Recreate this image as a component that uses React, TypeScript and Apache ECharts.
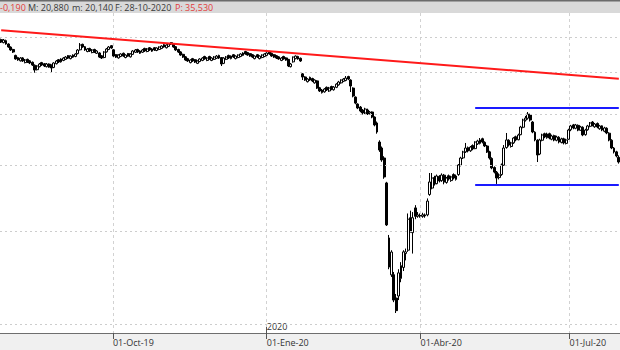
import React, { useEffect, useRef } from "react";
import * as echarts from "echarts";

// ---- calendar (categories) ----
const startDate = "2019-07-26";
const marketHolidays = ["2019-12-25", "2019-12-26", "2020-01-01", "2020-04-10", "2020-04-13", "2020-05-01"];
const monthNames = ["Ene", "Feb", "Mar", "Abr", "May", "Jun", "Jul", "Ago", "Sep", "Oct", "Nov", "Dic"];
const labelledMonths = [1, 4, 7, 10]; // quarters shown on the axis
const yearLabel = "2020";

// ---- daily candles [open, close, low, high] ----
const candlesQ3_2019: number[][] = [
  [34.60,34.24,34.10,34.75],[34.15,34.54,34.05,34.70],[34.45,33.95,33.85,34.60],[33.95,33.51,33.40,34.05],[33.50,33.07,32.95,33.60],
  [33.15,32.78,32.65,33.25],[32.30,31.80,31.70,32.40],[32.00,31.66,31.55,32.10],[31.55,31.93,31.45,32.05],[31.95,31.52,31.40,32.05],
  [31.30,31.66,31.20,31.80],[31.75,31.38,31.25,31.85],[31.55,31.25,31.10,31.65],[31.35,30.97,30.85,31.45],[30.95,30.30,29.95,31.05],
  [30.35,30.84,30.25,30.95],[30.75,31.11,30.65,31.25],[31.30,30.97,30.85,31.40],[31.15,30.84,30.70,31.25],[30.75,31.11,30.65,31.25],
  [31.10,30.70,30.60,31.20],[30.95,30.57,30.04,31.05],[30.65,31.25,30.55,31.35],[31.15,31.52,31.05,31.65],[31.70,31.38,31.25,31.80],
  [31.40,31.80,31.30,31.90],[31.60,31.93,31.50,32.05],[31.75,32.07,31.65,32.20],[32.25,31.93,31.80,32.35],[31.85,32.21,31.75,32.30],
  [32.05,32.35,31.95,32.45],[32.15,32.50,32.05,32.60],[32.55,33.07,32.45,33.20],[33.10,33.80,33.00,34.09],[33.90,33.51,33.40,34.00],
  [33.55,33.07,32.95,33.65],[32.85,33.22,32.75,33.35],[33.30,32.93,32.80,33.40],[32.70,33.07,32.60,33.20],[33.15,32.78,32.65,33.25],
  [32.60,32.93,32.50,33.05],[32.65,32.07,31.95,32.75],[32.25,31.93,31.80,32.35],[32.00,32.78,31.90,32.90],[32.80,33.22,32.70,33.35],
  [33.15,33.51,33.05,33.65],[33.70,33.36,33.25,33.80],
];
const candlesQ4_2019: number[][] = [
  [33.10,32.21,32.10,33.20],[32.40,32.07,31.95,32.50],[31.95,32.35,31.85,32.45],[32.15,32.50,32.05,32.60],[32.60,32.21,32.10,32.70],
  [32.00,32.35,31.90,32.45],[32.55,32.21,32.10,32.65],[32.10,32.50,32.00,32.60],[32.45,32.93,32.35,33.05],[32.75,33.07,32.65,33.20],
  [33.15,32.78,32.65,33.25],[32.60,32.93,32.50,33.05],[32.75,33.07,32.65,33.20],[33.30,32.93,32.80,33.40],[32.85,33.22,32.75,33.35],
  [33.40,33.07,32.95,33.50],[32.90,33.22,32.80,33.35],[33.40,33.07,32.95,33.50],[33.00,33.36,32.90,33.45],[33.15,33.51,33.05,33.60],
  [33.30,33.65,33.20,33.75],[33.85,33.51,33.40,33.95],[33.40,33.80,33.30,33.90],[33.60,33.95,33.50,34.05],[34.15,33.95,33.80,34.24],
  [33.95,33.51,33.40,34.05],[33.55,33.07,32.95,33.65],[33.15,32.78,32.65,33.25],[32.80,32.35,32.25,32.90],[32.45,32.07,31.95,32.55],
  [32.10,31.66,31.55,32.20],[31.85,31.52,31.40,31.95],[31.30,31.66,31.20,31.75],[31.85,31.52,31.40,31.95],[31.70,31.38,31.25,31.80],
  [31.20,31.52,31.10,31.60],[31.45,31.80,31.35,31.90],[31.60,31.93,31.50,32.05],[32.15,31.80,31.70,32.25],[31.60,31.93,31.50,32.05],
  [32.15,31.80,31.70,32.25],[31.60,31.93,31.50,32.05],[31.75,32.07,31.65,32.20],[31.90,32.21,31.80,32.35],[32.30,31.93,31.80,32.40],
  [32.00,31.11,30.84,32.07],[31.20,31.93,31.10,32.05],[31.75,32.07,31.65,32.20],[32.30,31.93,31.80,32.40],[31.85,32.21,31.75,32.30],
  [32.40,32.07,31.95,32.50],[31.85,32.21,31.75,32.30],[32.00,32.35,31.90,32.45],[32.15,32.50,32.05,32.60],[32.30,32.64,32.20,32.75],
  [32.85,32.50,32.40,32.95],[32.70,32.35,32.25,32.80],[32.55,32.21,32.10,32.65],[32.40,32.07,31.95,32.50],[31.85,32.21,31.75,32.30],
  [32.40,32.07,31.95,32.50],[31.85,32.21,31.75,32.30],[32.00,32.35,31.90,32.45],[32.15,32.50,32.05,32.60],
];
const candlesQ1_2020: number[][] = [
  [32.30,32.64,32.20,32.75],[32.85,32.50,32.40,32.95],[32.60,32.21,32.10,32.70],[32.40,32.07,31.95,32.50],[32.25,31.93,31.80,32.35],
  [32.10,31.80,31.70,32.20],[31.60,31.93,31.50,32.05],[32.15,31.80,31.70,32.25],[31.95,31.66,31.55,32.05],[31.75,30.84,30.70,31.80],
  [30.75,31.11,30.65,31.25],[31.40,32.07,31.30,32.15],[31.85,32.21,31.75,32.30],[32.15,31.80,31.70,32.25],[31.90,31.52,31.40,32.00],
  [29.80,29.39,29.01,29.91],[29.40,29.01,28.90,29.50],[28.80,29.13,28.70,29.25],[29.35,29.01,28.90,29.45],[29.20,28.89,28.75,29.30],
  [28.65,29.01,28.55,29.10],[28.90,28.01,27.90,29.00],[28.05,27.65,27.53,28.15],[27.45,27.77,27.35,27.90],[27.55,27.89,27.45,28.00],
  [28.10,27.77,27.65,28.20],[27.65,28.01,27.55,28.15],[28.20,27.89,27.75,28.30],[27.80,28.13,27.70,28.25],[28.10,28.50,28.00,28.60],
  [28.40,28.76,28.30,28.90],[28.65,29.01,28.55,29.10],[28.85,29.13,28.75,29.25],[28.95,29.26,28.85,29.52],[29.45,29.13,29.00,29.55],
  [29.01,28.26,27.53,29.10],[28.01,27.05,26.90,28.10],[26.93,26.23,26.10,27.00],[26.12,25.67,25.55,26.20],[25.78,25.34,25.20,25.90],
  [25.45,25.12,24.95,25.55],[25.12,25.56,25.00,25.70],[25.45,25.01,24.90,25.60],[25.12,25.23,24.95,25.35],[25.23,24.68,24.55,25.30],
  [24.68,23.84,23.70,24.75],[24.05,23.12,22.95,24.20],[22.13,21.37,21.20,22.30],[21.56,20.46,20.30,21.70],[20.64,19.00,18.85,20.80],
  [18.51,15.41,15.34,18.60],[14.56,12.82,12.70,14.75],[12.39,13.69,12.28,13.80],[12.40,11.10,11.00,12.55],[11.20,10.60,10.49,11.40],
  [11.30,12.50,11.10,12.70],[12.20,12.90,12.00,13.10],[12.80,13.70,12.60,13.80],[13.60,13.70,13.20,13.90],[13.80,15.80,13.70,16.20],
  [15.90,15.00,14.90,16.40],[14.90,15.90,13.60,16.30],[16.60,16.00,15.80,16.80],[16.00,16.10,15.90,16.30],
];
const candlesQ2Q3_2020: number[][] = [
  [16.05,16.03,15.90,16.20],[16.00,16.10,15.90,16.25],[16.10,16.03,15.90,16.20],[16.10,17.10,16.00,17.30],[17.60,18.59,17.50,19.33],
  [18.10,18.91,18.00,19.33],[18.95,18.43,18.30,19.10],[18.45,19.08,18.40,19.20],[19.05,18.67,18.55,19.15],[18.70,19.16,18.60,19.30],
  [19.15,18.59,18.40,19.25],[18.55,18.91,18.45,19.00],[19.10,18.83,18.70,19.20],[18.70,19.00,18.60,19.10],[19.20,18.91,18.80,19.30],
  [18.80,19.08,18.70,19.20],[19.20,20.02,19.10,20.10],[20.00,20.64,19.90,20.75],[20.65,21.19,20.55,21.30],[21.20,21.56,21.10,22.04],
  [21.60,21.28,21.15,21.70],[21.30,21.65,21.20,21.75],[21.80,21.47,21.35,21.90],[21.50,22.13,21.45,22.20],[21.95,22.23,21.85,22.35],
  [22.00,22.33,21.90,22.52],[22.45,22.13,22.00,22.55],[22.10,21.75,21.65,22.20],[21.75,21.19,21.10,21.85],[21.20,20.64,20.50,21.30],
  [20.60,19.76,19.65,20.70],[19.80,19.41,19.30,19.90],[19.40,18.91,18.43,19.50],[18.95,19.16,18.80,19.30],[19.20,20.02,19.10,20.15],
  [20.00,21.56,19.95,21.84],[21.60,22.33,21.50,23.02],[22.30,21.84,21.70,22.40],[21.70,22.04,21.60,22.15],[22.05,22.52,21.95,22.60],
  [22.65,22.33,22.20,22.75],[22.35,22.82,22.30,22.95],[22.85,23.63,22.80,23.75],[23.60,24.36,23.50,24.50],[24.35,24.57,24.20,24.80],
  [24.55,25.01,24.40,25.23],[24.95,24.36,24.20,25.05],[24.15,23.12,23.00,24.25],[23.10,22.33,22.20,23.20],[22.30,20.91,20.28,22.40],
  [21.00,22.33,20.90,22.45],[22.30,22.82,22.20,22.95],[22.95,22.62,22.50,23.05],[22.55,22.92,22.45,23.05],[22.95,22.52,22.40,23.05],
  [22.40,22.72,22.30,22.85],[22.75,22.33,22.20,22.85],[22.30,22.62,22.20,22.75],[22.60,22.13,22.00,22.70],[22.10,22.43,22.00,22.55],
  [22.45,22.04,21.90,22.55],[22.00,22.33,21.90,22.45],[22.40,23.32,22.35,23.45],[23.35,23.74,23.20,23.85],[23.85,23.53,23.40,23.95],
  [23.50,23.84,23.40,23.95],[23.80,23.32,23.20,23.90],[23.30,23.63,23.25,23.75],[23.60,22.82,22.70,23.70],[22.85,23.32,22.75,23.45],
  [23.35,23.74,23.25,23.85],[23.70,24.05,23.60,24.15],[24.15,23.84,23.70,24.25],[23.65,23.94,23.55,24.05],[24.00,23.63,23.50,24.10],
  [23.45,23.74,23.35,23.85],[23.75,23.32,23.20,23.80],[23.20,23.53,23.10,23.65],[23.50,23.02,22.90,23.60],[23.00,22.33,22.20,23.10],
  [22.30,21.56,21.45,22.40],[21.55,21.19,21.05,21.65],[21.20,20.82,20.70,21.30],[20.70,20.28,20.14,20.88],
];
const ohlc = [...candlesQ3_2019, ...candlesQ4_2019, ...candlesQ1_2020, ...candlesQ2Q3_2020];

// ---- price grid & drawn lines ----
const gridPrices = [10, 15, 20, 25, 30, 35];
const priceRange = [9.614, 38.87];
const trendPrices = [36.06, 29.18]; // red resistance line, first to last bar
const channelStart = "2020-05-07";
const channelPrices = [25.71, 18.4]; // blue range lines

// ---- header ----
const headerItems = [
  { text: "-0,190", color: "#e23b3b", at: 0 },
  { text: "M: 20,880", color: "#3a3a3a", at: 28 },
  { text: "m: 20,140", color: "#3a3a3a", at: 72 },
  { text: "F: 28-10-2020", color: "#3a3a3a", at: 115 },
  { text: "P: 35,530", color: "#e23b3b", at: 175 },
];

function tradingDays(start: string, count: number): string[] {
  const out: string[] = [];
  const d = new Date(start + "T00:00:00Z");
  while (out.length < count) {
    const wd = d.getUTCDay();
    const iso = d.toISOString().slice(0, 10);
    if (wd !== 0 && wd !== 6 && !marketHolidays.includes(iso)) out.push(iso);
    d.setUTCDate(d.getUTCDate() + 1);
  }
  return out;
}

const dates = tradingDays(startDate, ohlc.length);
const tickIdx = new Set<number>();
dates.forEach((d, i) => {
  if (i === 0) return;
  const m = +d.slice(5, 7);
  if (m !== +dates[i - 1].slice(5, 7) && labelledMonths.includes(m)) tickIdx.add(i);
});
const yearIdx = dates.findIndex((d) => d.startsWith(yearLabel));
const FONT = '"Open Sans", "Noto Sans", sans-serif';

export default function App() {
  const ref = useRef<HTMLDivElement>(null);
  useEffect(() => {
    if (!ref.current) return;
    const chart = echarts.init(ref.current, undefined, { renderer: "svg" });
    const last = dates[dates.length - 1];
    const showTick = (i: number) => tickIdx.has(i);
    const isYear = (i: number) => i === yearIdx;
    chart.setOption({
      animation: false,
      backgroundColor: "#ffffff",
      grid: { left: 0, right: 0, top: 13, bottom: 17, containLabel: false },
      xAxis: [
        {
          // axis holding the candles
          type: "category",
          data: dates,
          boundaryGap: true,
          position: "bottom",
          axisLine: { show: true, lineStyle: { color: "#6e6e6e", width: 1 } },
          axisTick: { show: false },
          axisLabel: { show: false },
          splitLine: { show: false },
        },
        {
          // quarter ticks, labels and vertical grid
          type: "category",
          data: dates,
          boundaryGap: false,
          position: "bottom",
          axisLine: { show: false },
          axisTick: { show: true, interval: showTick, length: 6, lineStyle: { color: "#555" } },
          axisLabel: {
            show: true,
            interval: showTick,
            align: "left",
            margin: 5,
            color: "#333",
            fontSize: 9,
            fontFamily: FONT,
            formatter: (v: string) => `01-${monthNames[+v.slice(5, 7) - 1]}-${v.slice(2, 4)}`,
          },
          splitLine: { show: true, interval: showTick, lineStyle: { color: "#d2d2d2", type: [3, 3], width: 1 } },
        },
        {
          // year marker
          type: "category",
          data: dates,
          boundaryGap: false,
          position: "bottom",
          axisLine: { show: false },
          axisTick: { show: true, inside: true, interval: isYear, length: 6, lineStyle: { color: "#555" } },
          axisLabel: {
            show: true,
            inside: true,
            interval: isYear,
            align: "left",
            margin: 2,
            color: "#333",
            fontSize: 9,
            fontFamily: FONT,
            formatter: () => yearLabel,
          },
          splitLine: { show: false },
        },
      ],
      yAxis: {
        type: "log",
        min: priceRange[0],
        max: priceRange[1],
        show: false,
        splitLine: { show: false },
      },
      series: [
        {
          type: "line",
          data: [],
          xAxisIndex: 0,
          z: 1,
          silent: true,
          markLine: {
            silent: true,
            symbol: "none",
            label: { show: false },
            emphasis: { disabled: true },
            lineStyle: { color: "#cdcdcd", type: [2, 3], width: 1 },
            data: gridPrices.map((v) => ({ yAxis: v })),
          },
        },
        {
          type: "candlestick",
          data: ohlc,
          xAxisIndex: 0,
          z: 3,
          barWidth: 2.4,
          itemStyle: { color: "#ffffff", color0: "#000000", borderColor: "#000000", borderColor0: "#000000", borderWidth: 1 },
          markLine: {
            silent: true,
            symbol: "none",
            label: { show: false },
            emphasis: { disabled: true },
            lineStyle: { type: "solid", width: 2 },
            data: [
              [
                { coord: [dates[0], trendPrices[0]], lineStyle: { color: "#ff1a1a", width: 2, type: "solid" } },
                { coord: [last, trendPrices[1]] },
              ],
              [
                { coord: [channelStart, channelPrices[0]], lineStyle: { color: "#1a1aff", width: 2, type: "solid" } },
                { coord: [last, channelPrices[0]] },
              ],
              [
                { coord: [channelStart, channelPrices[1]], lineStyle: { color: "#1a1aff", width: 2, type: "solid" } },
                { coord: [last, channelPrices[1]] },
              ],
            ],
          },
        },
      ],
      graphic: [
        { type: "rect", z: -1, silent: true, shape: { x: 0, y: 0, width: 620, height: 13 }, style: { fill: "#d9d9d9" } },
        { type: "rect", z: -1, silent: true, shape: { x: 0, y: 0, width: 620, height: 1.5 }, style: { fill: "#6b6b6b" } },
        { type: "rect", z: -1, silent: true, shape: { x: 0, y: 334, width: 620, height: 16 }, style: { fill: "#f0f0f0" } },
        ...headerItems.map((h) => ({
          type: "text",
          silent: true,
          x: h.at,
          y: 7,
          style: { text: h.text, fill: h.color, fontSize: 9, fontFamily: FONT, verticalAlign: "middle", align: "left" },
        })),
      ],
    });
    return () => chart.dispose();
  }, []);
  return <div ref={ref} style={{ position: "fixed", left: 0, top: 0, width: 620, height: 350 }} />;
}
